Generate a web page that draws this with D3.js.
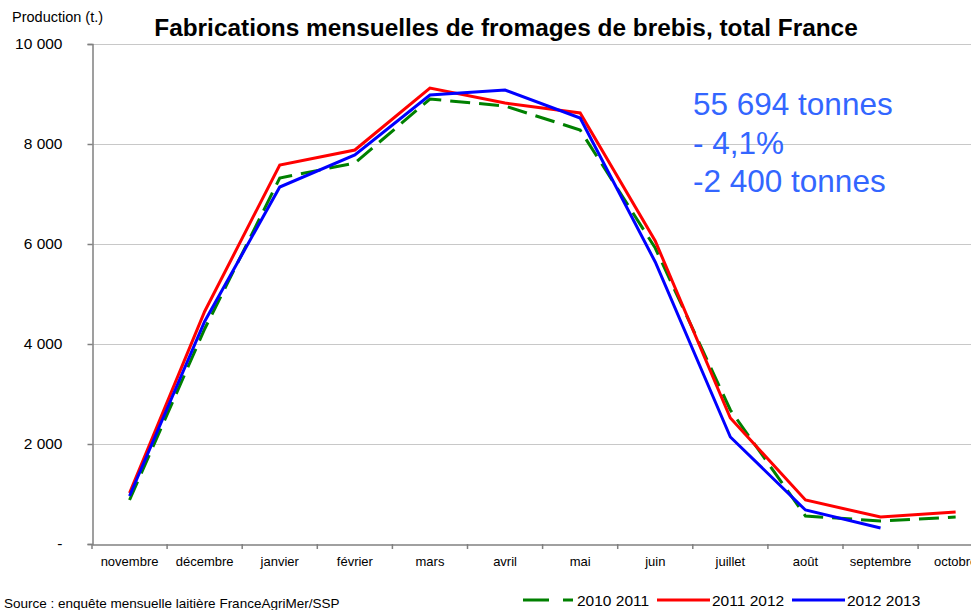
<!DOCTYPE html>
<html>
<head>
<meta charset="utf-8">
<title>Fabrications mensuelles de fromages de brebis</title>
<script src="https://cdn.jsdelivr.net/npm/d3@7/dist/d3.min.js"></script>
<style>
  body { margin: 0; background: #fff; overflow: hidden; }
  text { font-family: Arial, "Liberation Sans", sans-serif; }
</style>
</head>
<body>
<script>
// données (tonnes)
var mois = ["novembre","décembre","janvier","février","mars","avril","mai","juin","juillet","août","septembre","octobre"];
var s2010 = [880, 4300, 7320, 7620, 8900, 8760, 8280, 5920, 2680, 560, 460, 540];
var s2011 = [1020, 4650, 7580, 7880, 9120, 8820, 8620, 6060, 2520, 880, 540, 640];
var s2012 = [960, 4450, 7140, 7780, 8980, 9080, 8520, 5640, 2140, 680, 320];
var yTicks = [0, 2000, 4000, 6000, 8000, 10000];
var annot = ["55 694 tonnes", "- 4,1%", "-2 400 tonnes"];

var series = [
  {name: "2010 2011", values: s2010, color: "#008000", dash: "20,9"},
  {name: "2011 2012", values: s2011, color: "#ff0000", dash: null},
  {name: "2012 2013", values: s2012, color: "#0000ff", dash: null}
];

var width = 971, height = 610;
var svg = d3.select("body").append("svg")
  .attr("width", width).attr("height", height);

var mLeft = 92, mTop = 44, mBottom = 544, bandW = 75.1;
var x = d3.scaleBand().domain(mois).range([mLeft, mLeft + bandW * mois.length]);
var y = d3.scaleLinear().domain([0, 10000]).range([mBottom, mTop]);

// grille
svg.selectAll(".grid").data(yTicks.filter(function(d){ return d > 0; }))
  .enter().append("line")
  .attr("x1", mLeft).attr("x2", width)
  .attr("y1", function(d){ return y(d) + 0.5; }).attr("y2", function(d){ return y(d) + 0.5; })
  .attr("stroke", "#c8c8c8").attr("stroke-width", 1);

// axe Y
var fmt = function(d){ return d === 0 ? "-" : d3.format(",")(d).replace(/,/g, " "); };
var yAxis = svg.append("g").attr("transform", "translate(" + (mLeft + 0.5) + ",0)")
  .call(d3.axisLeft(y).tickValues(yTicks).tickFormat(fmt).tickSize(5).tickPadding(25));
yAxis.select(".domain").attr("stroke", "#808080").attr("stroke-width", 1.5);
yAxis.selectAll(".tick line").attr("stroke", "#808080").attr("stroke-width", 1.5);
yAxis.selectAll(".tick text").attr("font-size", 15.5).attr("fill", "#000")
  .attr("font-family", "Arial, 'Liberation Sans', sans-serif");

// axe X
var xAxis = svg.append("g").attr("transform", "translate(0," + (mBottom + 0.5) + ")")
  .call(d3.axisBottom(x).tickSize(0).tickPadding(12));
xAxis.select(".domain").attr("stroke", "#808080").attr("stroke-width", 1.5);
xAxis.selectAll(".tick text").attr("font-size", 13).attr("fill", "#000")
  .attr("font-family", "Arial, 'Liberation Sans', sans-serif");
svg.selectAll(".xtick").data(d3.range(mois.length + 1)).enter().append("line")
  .attr("x1", function(i){ return mLeft + i * bandW; }).attr("x2", function(i){ return mLeft + i * bandW; })
  .attr("y1", mBottom).attr("y2", mBottom + 5)
  .attr("stroke", "#808080").attr("stroke-width", 1.5);

// courbes
var line = d3.line()
  .x(function(d, i){ return x(mois[i]) + x.bandwidth() / 2; })
  .y(function(d){ return y(d); });
series.forEach(function(s){
  svg.append("path").datum(s.values)
    .attr("d", line).attr("fill", "none")
    .attr("stroke", s.color).attr("stroke-width", 3)
    .attr("stroke-dasharray", s.dash);
});

// titres
svg.append("text").attr("x", 506).attr("y", 36).attr("text-anchor", "middle")
  .attr("font-size", 24.4).attr("font-weight", "bold")
  .text("Fabrications mensuelles de fromages de brebis, total France");
svg.append("text").attr("x", 12).attr("y", 22).attr("font-size", 14.5)
  .text("Production (t.)");
svg.append("text").attr("x", 4).attr("y", 608).attr("font-size", 13.5)
  .text("Source : enquête mensuelle laitière FranceAgriMer/SSP");

// annotation
svg.selectAll(".annot").data(annot).enter().append("text")
  .attr("x", 693).attr("y", function(d, i){ return 115 + i * 38.5; })
  .attr("font-size", 31.5).attr("fill", "#3366ff")
  .text(function(d){ return d; });

// légende
var legX = [523, 657, 792];
series.forEach(function(s, i){
  var g = svg.append("g").attr("transform", "translate(" + legX[i] + ",600)");
  g.append("line").attr("x1", 0).attr("x2", s.dash ? 50 : 53)
    .attr("stroke", s.color).attr("stroke-width", 3).attr("stroke-dasharray", s.dash ? "26,14" : null);
  g.append("text").attr("x", s.dash ? 54 : 55).attr("y", 6).attr("font-size", 15.5)
    .text(s.name);
});
</script>
</body>
</html>
